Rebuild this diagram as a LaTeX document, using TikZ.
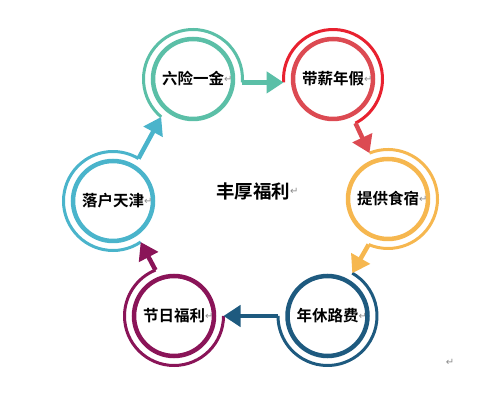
\documentclass[tikz,border=0pt]{standalone}
\usepackage{fontspec}
\setmainfont{Noto Sans CJK SC}[UprightFont=* Medium, BoldFont=* Bold]
\newfontfamily\markfont{DejaVu Sans}
\usetikzlibrary{
    arrows.meta
}
\definecolor{cteal}{HTML}{5BBFA7}
\definecolor{credin}{HTML}{DC4A52}
\definecolor{credout}{HTML}{E8212F}
\definecolor{cyel}{HTML}{F6B74F}
\definecolor{cnavy}{HTML}{1E5A7F}
\definecolor{cplum}{HTML}{8A1458}
\definecolor{csky}{HTML}{4AB4CB}
\definecolor{markgray}{HTML}{8C8C8C}
\tikzset{
  ring/.style={
    draw=#1,
    circle,
    line width=4.5pt,
    minimum size=80pt,
    inner sep=0pt,
    font=\bfseries\fontsize{15.5}{16}\selectfont
  },
  outarc/.style={
    draw=#1,
    line width=3pt
  },
  flow/.style={
    draw=#1,
    line width=4.5pt,
    -{Triangle[length=17pt,width=21pt,fill=#1]}
  },
  pmark/.style={
    text=markgray,
    inner sep=0pt,
    font=\markfont\fontsize{10}{10}\selectfont
  }
}

\begin{document}
\begin{tikzpicture}[x=1pt,y=1pt]
    \useasboundingbox (0,0) rectangle (487,401);

    % 圆环
    \node[ring=cteal] (lx) at (193,322) {六险一金};
    \node[ring=credin] (dx) at (333,322) {带薪年假};
    \node[ring=cyel] (tg) at (388,202) {提供食宿};
    \node[ring=cnavy] (nx) at (327.5,85) {年休路费};
    \node[ring=cplum] (jr) at (174,85) {节日福利};
    \node[ring=csky] (lh) at (113,200) {落户天津};

    % 中心
    \node[font=\bfseries\fontsize{18.5}{19}\selectfont] (zx) at (253,210) {丰厚福利};

    % 回车符
    \node[pmark,anchor=west] (m1) at ([xshift=31pt]lx.center) {↵};
    \node[pmark,anchor=west] (m2) at ([xshift=31pt]dx.center) {↵};
    \node[pmark,anchor=west] (m3) at ([xshift=31pt]tg.center) {↵};
    \node[pmark,anchor=west] (m4) at ([xshift=31pt]nx.center) {↵};
    \node[pmark,anchor=west] (m5) at ([xshift=31pt]jr.center) {↵};
    \node[pmark,anchor=west] (m6) at ([xshift=31pt]lh.center) {↵};
    \node[pmark,anchor=west] (m7) at ([xshift=37pt]zx.center) {↵};
    \node[pmark] (m8) at (450,39) {↵};

    % 外弧起点
    \coordinate (lx-in) at ([shift={(230:49.5pt)}]lx.center);
    \coordinate (dx-in) at ([shift={(184:49.5pt)}]dx.center);
    \coordinate (tg-in) at ([shift={(112:49.5pt)}]tg.center);
    \coordinate (nx-in) at ([shift={(60:49.5pt)}]nx.center);
    \coordinate (jr-in) at ([shift={(0:49.5pt)}]jr.center);
    \coordinate (lh-in) at ([shift={(-56:49.5pt)}]lh.center);

    % 外弧
    \draw[outarc=cteal] (lx-in) arc[start angle=230,end angle=-4,radius=49.5pt] coordinate (lx-out);
    \draw[outarc=credout] (dx-in) arc[start angle=184,end angle=-63,radius=49.5pt] coordinate (dx-out);
    \draw[outarc=cyel] (tg-in) arc[start angle=112,end angle=-113,radius=49.5pt] coordinate (tg-out);
    \draw[outarc=cnavy] (nx-in) arc[start angle=60,end angle=-180,radius=49.5pt] coordinate (nx-out);
    \draw[outarc=cplum] (jr-in) arc[start angle=0,end angle=-248,radius=49.5pt] coordinate (jr-out);
    \draw[outarc=csky] (lh-in) arc[start angle=-56,end angle=-301,radius=49.5pt] coordinate (lh-out);

    % 箭头
    \draw[flow=cteal] (lx-out) -- (dx-in);
    \draw[flow=credin] (dx-out) -- (tg-in);
    \draw[flow=cyel] (tg-out) -- (nx-in);
    \draw[flow=cnavy] (nx-out) -- (jr-in);
    \draw[flow=cplum] (jr-out) -- (lh-in);
    \draw[flow=csky] (lh-out) -- (lx-in);
\end{tikzpicture}
\end{document}
